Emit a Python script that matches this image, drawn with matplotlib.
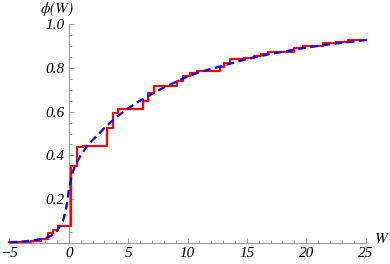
import matplotlib
matplotlib.use("Agg")
import matplotlib.pyplot as plt
from matplotlib.ticker import MultipleLocator, FixedLocator

# Empirical CDF (red step function)
step_w = [-5, -3.2, -2.35, -1.78, -1.36, -0.94, 0.2, 0.66, 1.16, 3.2, 3.68, 4.17,
          6.22, 6.68, 7.18, 9.12, 9.65, 10.2, 10.77, 12.7, 13.1, 13.6, 14.8, 15.6,
          16.2, 16.75, 19.0, 19.7, 21.4, 22.5, 23.5, 25]
step_phi = [0.005, 0.01, 0.017, 0.044, 0.059, 0.077, 0.35, 0.437, 0.444, 0.526, 0.595, 0.614,
            0.647, 0.685, 0.718, 0.741, 0.763, 0.775, 0.787, 0.805, 0.823, 0.839, 0.843, 0.854,
            0.864, 0.874, 0.889, 0.901, 0.912, 0.918, 0.927, 0.927]

# Smooth CDF (blue dashed)
curve_w = [-5, -4, -3, -2, -1.5, -1, -0.5, -0.25, 0, 0.25, 0.5, 1, 1.5, 2, 3, 4, 5, 6, 7, 8,
           9, 10, 11, 12, 13, 14, 15, 16, 17, 18, 19, 20, 21, 22, 23, 24, 25]
curve_phi = [0.003, 0.006, 0.012, 0.022, 0.033, 0.055, 0.1, 0.15, 0.24, 0.31, 0.35, 0.4, 0.44,
             0.47, 0.525, 0.575, 0.615, 0.65, 0.68, 0.71, 0.735, 0.76, 0.78, 0.795, 0.81,
             0.825, 0.84, 0.852, 0.863, 0.873, 0.883, 0.892, 0.9, 0.907, 0.914, 0.92, 0.927]

x_ticks = [-5, 0, 5, 10, 15, 20, 25]
y_ticks = [0.2, 0.4, 0.6, 0.8, 1.0]

plt.rcParams['font.family'] = ['Liberation Serif', 'DejaVu Serif']
plt.rcParams['font.style'] = 'italic'
plt.rcParams['mathtext.fontset'] = 'stix'

W, H = 390, 264
fig = plt.figure(figsize=(W / 100, H / 100), dpi=100)
ax = fig.add_axes([9.5 / W, (H - 243) / H, 356 / W, 219 / H])
ax.set_xlim(-5, 25)
ax.set_ylim(0, 1.0)

ax.step(step_w, step_phi, where='post', color=(1, 0, 0), lw=1.6, clip_on=False, zorder=3)
ax.plot(curve_w, curve_phi, color=(0, 0, 1), lw=1.6, ls=(0, (3.5, 2.0)), clip_on=False, zorder=4)

for s in ['top', 'right']:
    ax.spines[s].set_visible(False)
ax.spines['left'].set_position(('data', 0))
ax.spines['bottom'].set_position(('data', 0))
for s in ['left', 'bottom']:
    ax.spines[s].set_color('#999999')
    ax.spines[s].set_linewidth(0.8)

ax.xaxis.set_major_locator(FixedLocator(x_ticks))
ax.xaxis.set_minor_locator(MultipleLocator(1))
ax.yaxis.set_major_locator(FixedLocator(y_ticks))
ax.yaxis.set_minor_locator(MultipleLocator(0.05))
ax.set_xticklabels(['\u22125' if t < 0 else str(t) for t in x_ticks])
ax.set_yticklabels([f'{t:.1f}' for t in y_ticks])

ax.tick_params(which='both', direction='in', color='#999999', width=0.6, labelsize=11)
ax.tick_params(which='major', length=3.5)
ax.tick_params(which='minor', length=2)
ax.tick_params(axis='x', pad=3)
ax.tick_params(axis='y', pad=3)

ax.text(-1.0, 1.07, r'$\phi(W)$', fontsize=11, ha='center', va='center', clip_on=False)
ax.text(26.4, 0.02, r'$W$', fontsize=11, ha='center', va='center', clip_on=False)

fig.savefig('out.png', dpi=100)
